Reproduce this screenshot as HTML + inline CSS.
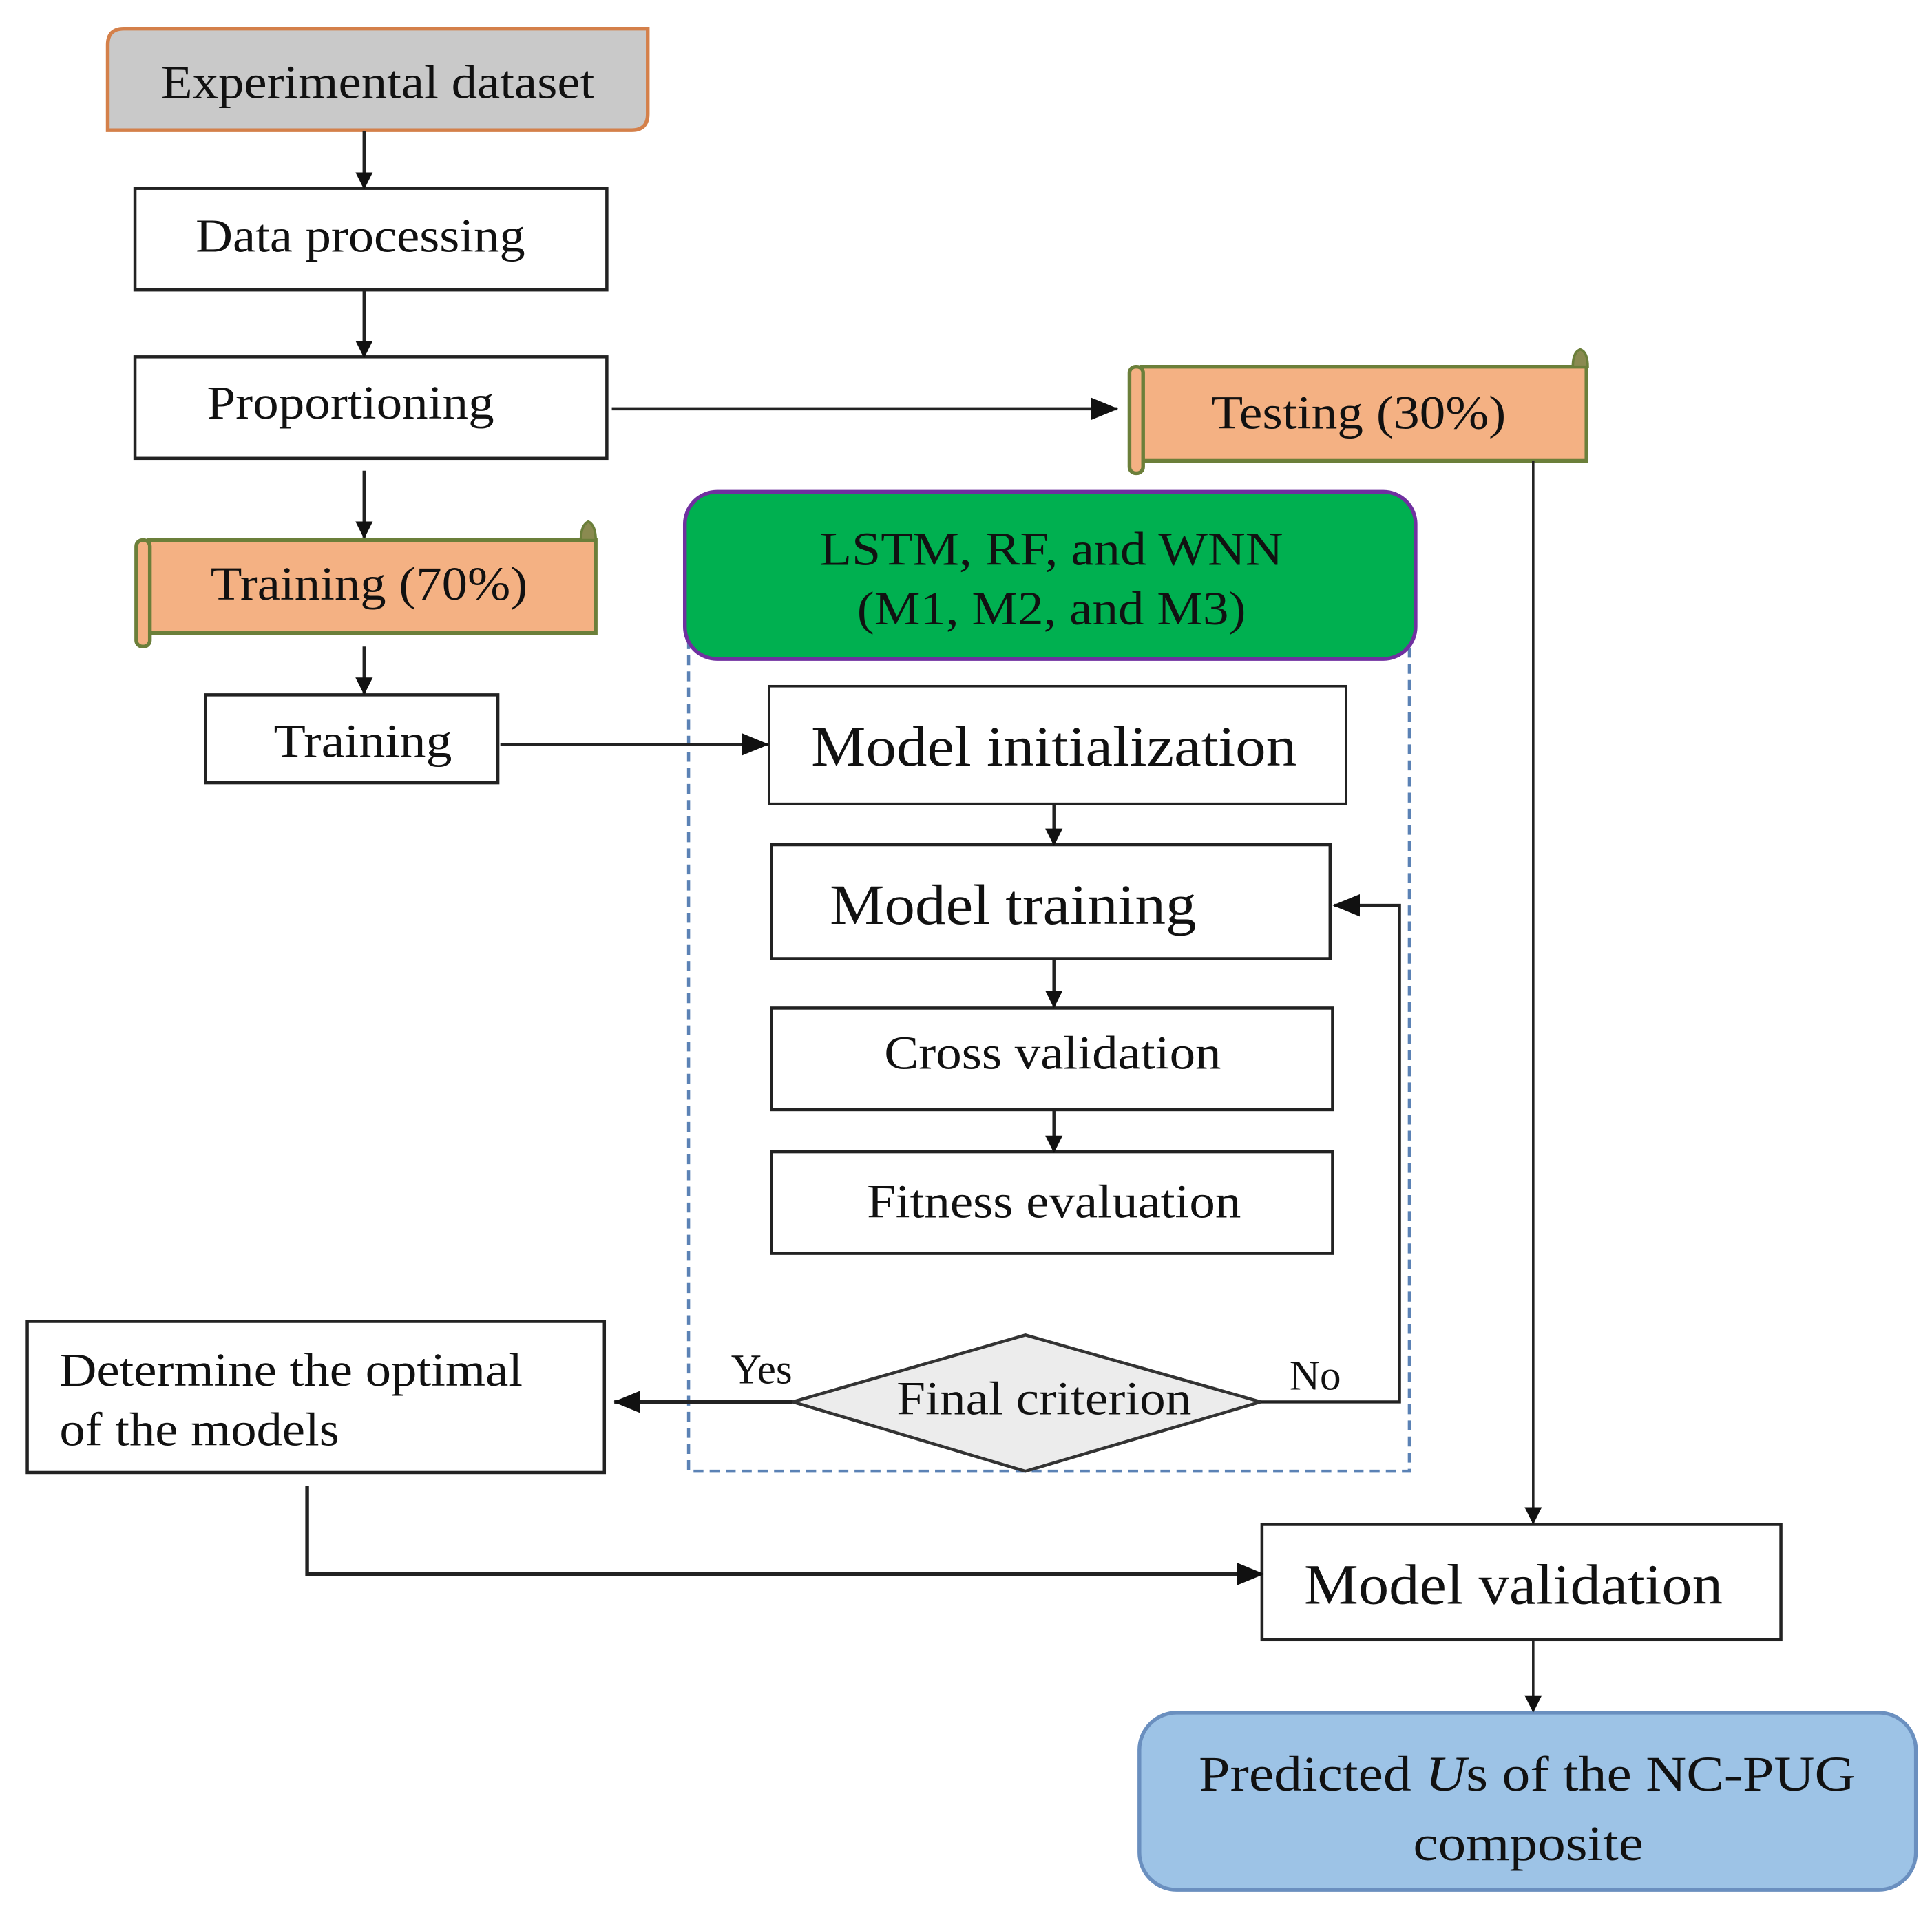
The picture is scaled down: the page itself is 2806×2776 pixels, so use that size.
<!DOCTYPE html>
<html><head><meta charset="utf-8"><style>
html,body{margin:0;padding:0;background:#fff;}
svg{display:block;}
text{font-family:"Liberation Serif",serif;fill:#111;}
</style></head><body>
<svg width="2806" height="2776" viewBox="0 0 1560 1543" xmlns="http://www.w3.org/2000/svg">
<defs>
<marker id="a" markerWidth="14" markerHeight="14" refX="13" refY="7" orient="auto" markerUnits="userSpaceOnUse" viewBox="0 0 14 14">
<path d="M0,0 L14,7 L0,14 z" fill="#111"/></marker>
<marker id="b" markerWidth="22" markerHeight="18" refX="21" refY="9" orient="auto" markerUnits="userSpaceOnUse" viewBox="0 0 22 18">
<path d="M0,0 L22,9 L0,18 z" fill="#111"/></marker>
</defs>
<g fill="none" stroke="#222" stroke-width="2.5">
<path d="M100,23 H523 V92 Q523,105 510,105 H87 V36 Q87,23 100,23 z" fill="#c9c9c9" stroke="#d4804a" stroke-width="3"/>
<rect x="109" y="152" width="381" height="82" fill="#fff"/>
<rect x="109" y="288" width="381" height="82" fill="#fff"/>
<path d="M922,296 H1281 V372 H922 z" fill="#f4b183" stroke="#6b7f3a" stroke-width="3"/>
<rect x="912" y="296" width="11" height="86" rx="5" fill="#f4b183" stroke="#6b7f3a" stroke-width="3"/>
<path d="M1270,296 Q1270,284 1276,282 Q1282,284 1282,296 z" fill="#8a8a50" stroke="#6b7f3a" stroke-width="2"/>
<path d="M120,436 H481 V511 H120 z" fill="#f4b183" stroke="#6b7f3a" stroke-width="3"/>
<rect x="110" y="436" width="11" height="86" rx="5" fill="#f4b183" stroke="#6b7f3a" stroke-width="3"/>
<path d="M469,436 Q469,424 475,421 Q481,424 481,436 z" fill="#8a8a50" stroke="#6b7f3a" stroke-width="2"/>
<rect x="166" y="561" width="236" height="71" fill="#fff"/>
<rect x="556" y="520" width="582" height="668" stroke="#5b82b5" stroke-width="2.5" stroke-dasharray="8,5"/>
<rect x="553" y="397" width="590" height="135" rx="26" fill="#00b050" stroke="#7030a0" stroke-width="3"/>
<rect x="621" y="554" width="466" height="95" fill="#fff" stroke-width="2"/>
<rect x="623" y="682" width="451" height="92" fill="#fff"/>
<rect x="623" y="814" width="453" height="82" fill="#fff"/>
<rect x="623" y="930" width="453" height="82" fill="#fff"/>
<path d="M640,1132 L828,1078 L1018,1132 L828,1188 z" fill="#ececec" stroke="#333" stroke-width="2.5"/>
<rect x="22" y="1067" width="466" height="122" fill="#fff"/>
<rect x="1019" y="1231" width="419" height="93" fill="#fff"/>
<rect x="920" y="1383" width="627" height="143" rx="30" fill="#9dc3e6" stroke="#6a8fbf" stroke-width="3"/>
<line x1="294" y1="106" x2="294" y2="152" marker-end="url(#a)"/>
<line x1="294" y1="234" x2="294" y2="288" marker-end="url(#a)"/>
<line x1="294" y1="380" x2="294" y2="434" marker-end="url(#a)"/>
<line x1="294" y1="522" x2="294" y2="560" marker-end="url(#a)"/>
<line x1="494" y1="330" x2="902" y2="330" marker-end="url(#b)"/>
<line x1="404" y1="601" x2="620" y2="601" marker-end="url(#b)"/>
<line x1="1238" y1="372" x2="1238" y2="1230" stroke-width="2" marker-end="url(#a)"/>
<line x1="851" y1="649" x2="851" y2="682" marker-end="url(#a)"/>
<line x1="851" y1="774" x2="851" y2="813" marker-end="url(#a)"/>
<line x1="851" y1="896" x2="851" y2="930" marker-end="url(#a)"/>
<polyline points="1018,1132 1130,1132 1130,731 1077,731" marker-end="url(#b)"/>
<line x1="640" y1="1132" x2="496" y2="1132" stroke-width="3" marker-end="url(#b)"/>
<polyline points="248,1200 248,1271 1020,1271" stroke-width="3" marker-end="url(#b)"/>
<line x1="1238" y1="1324" x2="1238" y2="1382" stroke-width="2" marker-end="url(#a)"/>
</g>
<g text-anchor="middle" font-size="38">
<text x="305" y="79" textLength="350" lengthAdjust="spacingAndGlyphs">Experimental dataset</text>
<text x="291" y="203" textLength="266" lengthAdjust="spacingAndGlyphs">Data processing</text>
<text x="283" y="338" textLength="232" lengthAdjust="spacingAndGlyphs">Proportioning</text>
<text x="1097" y="346" textLength="238" lengthAdjust="spacingAndGlyphs">Testing (30%)</text>
<text x="298" y="484" textLength="256" lengthAdjust="spacingAndGlyphs">Training (70%)</text>
<text x="293" y="611" textLength="144" lengthAdjust="spacingAndGlyphs">Training</text>
<text x="849" y="456" textLength="374" lengthAdjust="spacingAndGlyphs">LSTM, RF, and WNN</text>
<text x="849" y="504" textLength="314" lengthAdjust="spacingAndGlyphs">(M1, M2, and M3)</text>
<text x="851" y="618" font-size="46" textLength="392" lengthAdjust="spacingAndGlyphs">Model initialization</text>
<text x="818" y="746" font-size="46" textLength="296" lengthAdjust="spacingAndGlyphs">Model training</text>
<text x="850" y="863" textLength="272" lengthAdjust="spacingAndGlyphs">Cross validation</text>
<text x="851" y="983" textLength="302" lengthAdjust="spacingAndGlyphs">Fitness evaluation</text>
<text x="843" y="1142" textLength="238" lengthAdjust="spacingAndGlyphs">Final criterion</text>
<text x="615" y="1117" font-size="34">Yes</text>
<text x="1062" y="1122" font-size="34">No</text>
<text x="1222" y="1295" font-size="46" textLength="338" lengthAdjust="spacingAndGlyphs">Model validation</text>
<text x="1233" y="1446" font-size="40" textLength="530" lengthAdjust="spacingAndGlyphs">Predicted <tspan font-style="italic">U</tspan>s of the NC-PUG</text>
<text x="1234" y="1502" font-size="40" textLength="186" lengthAdjust="spacingAndGlyphs">composite</text>
</g>
<g font-size="38">
<text x="48" y="1119" textLength="374" lengthAdjust="spacingAndGlyphs">Determine the optimal</text>
<text x="48" y="1167" textLength="226" lengthAdjust="spacingAndGlyphs">of the models</text>
</g>
</svg>
</body></html>
